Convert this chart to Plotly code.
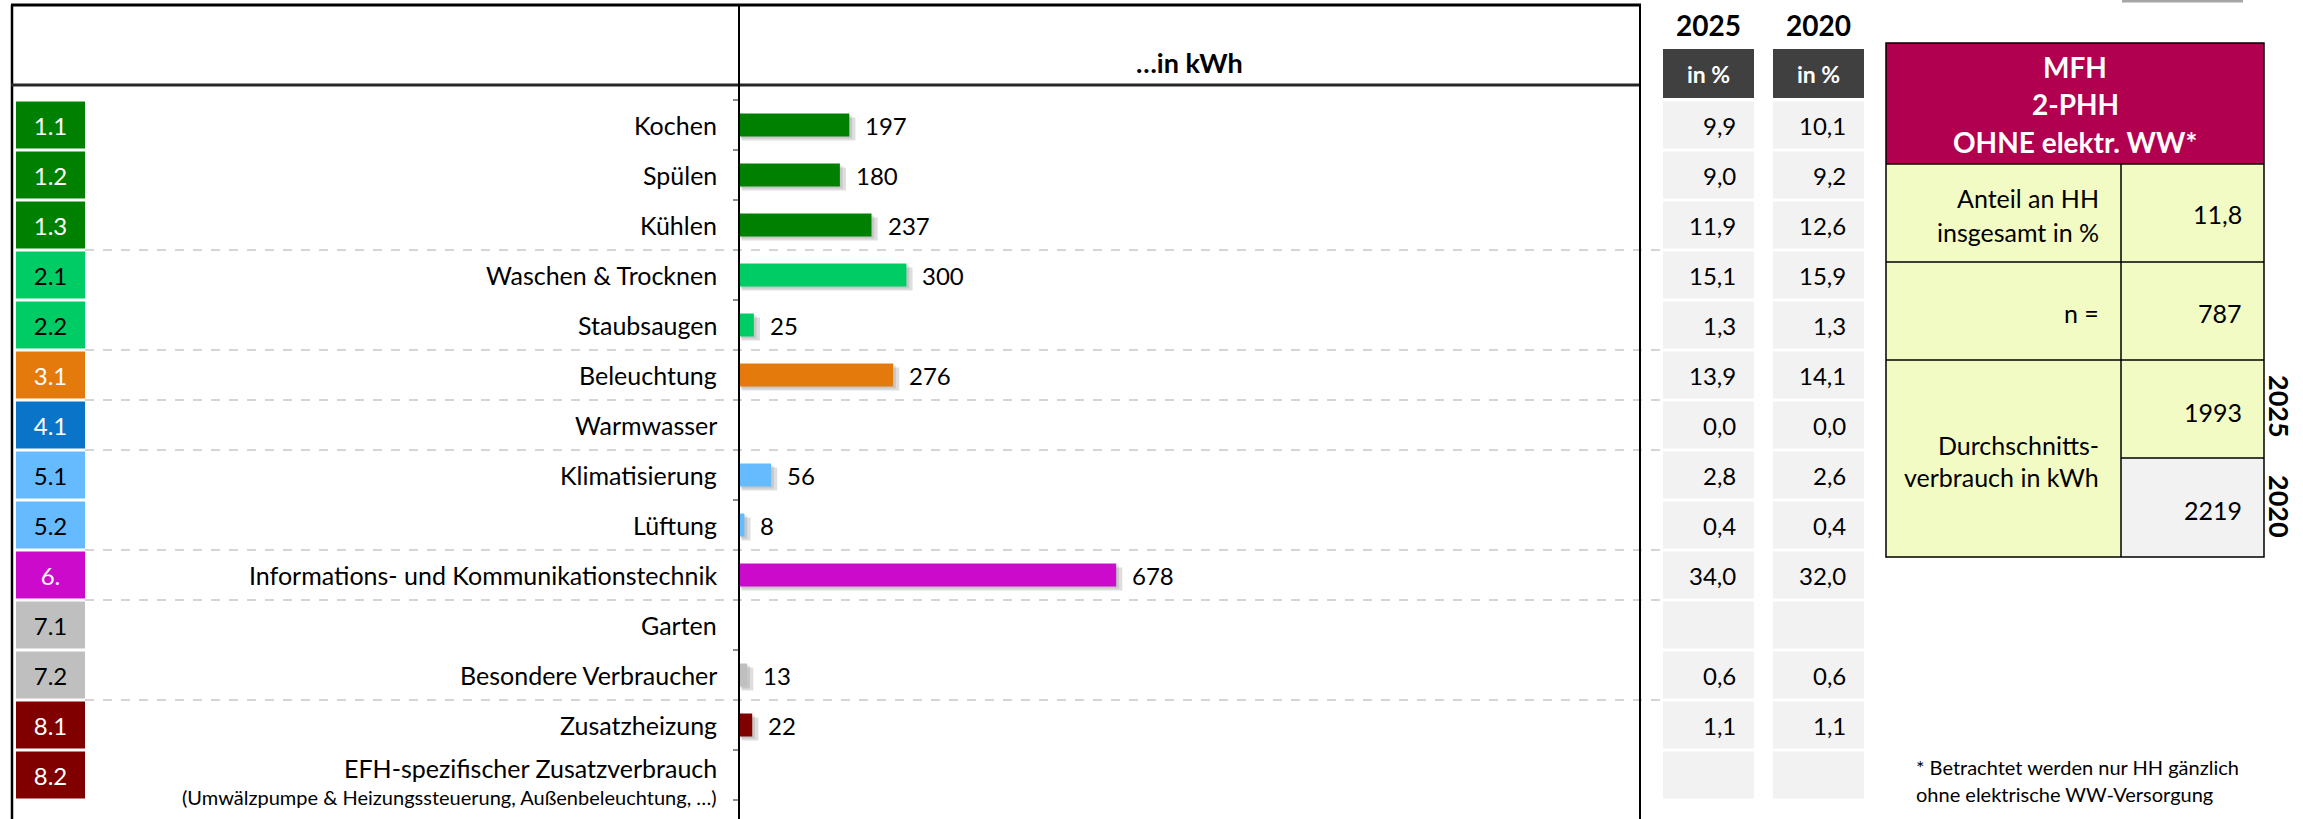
import plotly.graph_objects as go

W, H = 2303, 819

# ---------------- data ----------------
codes = ["1.1", "1.2", "1.3", "2.1", "2.2", "3.1", "4.1", "5.1", "5.2", "6.", "7.1", "7.2", "8.1", "8.2"]
labels = ["Kochen", "Spülen", "Kühlen", "Waschen & Trocknen", "Staubsaugen", "Beleuchtung",
          "Warmwasser", "Klimatisierung", "Lüftung", "Informations- und Kommunikationstechnik",
          "Garten", "Besondere Verbraucher", "Zusatzheizung", "EFH-spezifischer Zusatzverbrauch"]
sublabels = [""] * 13 + ["(Umwälzpumpe & Heizungssteuerung, Außenbeleuchtung, …)"]
kwh = [197, 180, 237, 300, 25, 276, 0, 56, 8, 678, None, 13, 22, None]
pct_2025 = [9.9, 9.0, 11.9, 15.1, 1.3, 13.9, 0.0, 2.8, 0.4, 34.0, None, 0.6, 1.1, None]
pct_2020 = [10.1, 9.2, 12.6, 15.9, 1.3, 14.1, 0.0, 2.6, 0.4, 32.0, None, 0.6, 1.1, None]
years = ["2025", "2020"]
col_header = "in %"
axis_title = "…in kWh"

group_colors = {"1": "#008000", "2": "#00CC66", "3": "#E57A0C", "4": "#0A74C8",
                "5": "#66BBFF", "6": "#CC0ACC", "7": "#BFBFBF", "8": "#800000"}
group_textcolors = {"1": "white", "2": "black", "3": "white", "4": "white",
                    "5": "black", "6": "white", "7": "black", "8": "white"}

box_title = ["MFH", "2-PHH", "OHNE elektr. WW*"]
anteil_label = ["Anteil an HH", "insgesamt in %"]
anteil_value = 11.8
n_label = "n ="
n_value = 787
avg_label = ["Durchschnitts-", "verbrauch in kWh"]
avg_2025 = 1993
avg_2020 = 2219
footnote = ["* Betrachtet werden nur HH gänzlich", "ohne elektrische WW-Versorgung"]

# ---------------- helpers ----------------
def px(x):
    return x / W

def py(y):
    return 1 - y / H

def de(v):
    return f"{v:.1f}".replace(".", ",")

rows = list(range(len(codes)))
colors = [group_colors[c[0]] for c in codes]
tcolors = [group_textcolors[c[0]] for c in codes]

FONT = "Lato"

fig = go.Figure()

# code boxes
fig.add_trace(go.Bar(y=rows, x=[1] * len(rows), base=0, orientation="h", xaxis="x2", yaxis="y",
                     width=0.94, marker=dict(color=colors, line=dict(width=0)),
                     text=codes, textposition="inside", insidetextanchor="middle",
                     textfont=dict(family=FONT, size=24, color=tcolors),
                     hoverinfo="skip"))

# bar shadows
fig.add_trace(go.Bar(y=rows, x=[(v + 8) if v else None for v in kwh], base=[3] * len(rows),
                     orientation="h", xaxis="x", yaxis="y", width=0.46, offset=-0.15,
                     marker=dict(color="rgba(0,0,0,0.13)", line=dict(width=0)),
                     hoverinfo="skip"))
fig.add_trace(go.Bar(y=rows, x=[(v + 4) if v else None for v in kwh], base=[1] * len(rows),
                     orientation="h", xaxis="x", yaxis="y", width=0.46, offset=-0.19,
                     marker=dict(color="rgba(0,0,0,0.10)", line=dict(width=0)),
                     hoverinfo="skip"))
# main bars
fig.add_trace(go.Bar(y=rows, x=kwh, base=0, orientation="h", xaxis="x", yaxis="y", width=0.46,
                     marker=dict(color=colors, line=dict(width=0)),
                     hovertemplate="%{x} kWh<extra></extra>"))

# table cells
for xa, vals in (("x3", pct_2025), ("x4", pct_2020)):
    fig.add_trace(go.Bar(y=rows, x=[1] * len(rows), base=0, orientation="h", xaxis=xa, yaxis="y",
                         width=0.94, marker=dict(color="#F2F2F2", line=dict(width=0)),
                         hoverinfo="skip"))
    fig.add_trace(go.Bar(y=[-1.03], x=[1], base=0, orientation="h", xaxis=xa, yaxis="y",
                         width=0.98, marker=dict(color="#404040", line=dict(width=0)),
                         text=[f"<b>{col_header}</b>"], textposition="inside", insidetextanchor="middle",
                         textfont=dict(family=FONT, size=23, color="white"),
                         hoverinfo="skip"))

annotations = []

def ann(**kw):
    kw.setdefault("showarrow", False)
    kw.setdefault("xanchor", "center")
    kw.setdefault("yanchor", "middle")
    annotations.append(kw)

# value labels
for i, v in enumerate(kwh):
    if v:
        ann(x=v, y=i, xref="x", yref="y", text=str(v), xanchor="left", xshift=14,
            font=dict(family=FONT, size=24, color="black"))
# category labels
for i, (lab, sub) in enumerate(zip(labels, sublabels)):
    if sub:
        ann(x=px(719), y=i, xref="paper", yref="y", text=lab, xanchor="right", yshift=7,
            font=dict(family=FONT, size=25, color="black"))
        ann(x=px(719), y=i, xref="paper", yref="y", text=sub, xanchor="right", yshift=-22,
            font=dict(family=FONT, size=20, color="black"))
    else:
        ann(x=px(719), y=i, xref="paper", yref="y", text=lab, xanchor="right",
            font=dict(family=FONT, size=25, color="black"))
# percentage values
for xa, vals in (("x3", pct_2025), ("x4", pct_2020)):
    for i, v in enumerate(vals):
        if v is not None:
            ann(x=1, y=i, xref=xa, yref="y", text=de(v), xanchor="right", xshift=-16,
                font=dict(family=FONT, size=24, color="black"))
# header texts
ann(x=px((739 + 1640) / 2), y=py(63), xref="paper", yref="paper", text=f"<b>{axis_title}</b>",
    font=dict(family=FONT, size=27, color="black"))
for yr, cx in zip(years, (1708, 1818)):
    ann(x=px(cx), y=py(25), xref="paper", yref="paper", text=f"<b>{yr}</b>",
        font=dict(family=FONT, size=28, color="black"))

# info box texts
for k, line_txt in enumerate(box_title):
    ann(x=px(2075), y=py(67 + 37.5 * k), xref="paper", yref="paper", text=f"<b>{line_txt}</b>",
        font=dict(family=FONT, size=28, color="white"))
for k, line_txt in enumerate(anteil_label):
    ann(x=px(2101), y=py(198 + 34 * k), xref="paper", yref="paper", text=line_txt, xanchor="right",
        font=dict(family=FONT, size=25, color="black"))
ann(x=px(2244), y=py(214), xref="paper", yref="paper", text=de(anteil_value), xanchor="right",
    font=dict(family=FONT, size=25, color="black"))
ann(x=px(2101), y=py(313), xref="paper", yref="paper", text=n_label, xanchor="right",
    font=dict(family=FONT, size=25, color="black"))
ann(x=px(2244), y=py(313), xref="paper", yref="paper", text=str(n_value), xanchor="right",
    font=dict(family=FONT, size=25, color="black"))
for k, line_txt in enumerate(avg_label):
    ann(x=px(2101), y=py(445 + 32 * k), xref="paper", yref="paper", text=line_txt, xanchor="right",
        font=dict(family=FONT, size=25, color="black"))
ann(x=px(2244), y=py(412), xref="paper", yref="paper", text=str(avg_2025), xanchor="right",
    font=dict(family=FONT, size=25, color="black"))
ann(x=px(2244), y=py(510), xref="paper", yref="paper", text=str(avg_2020), xanchor="right",
    font=dict(family=FONT, size=25, color="black"))
for yr, cy in zip(years, (406, 506)):
    ann(x=px(2280), y=py(cy), xref="paper", yref="paper", text=f"<b>{yr}</b>", textangle=90,
        font=dict(family=FONT, size=27, color="black"))
for k, line_txt in enumerate(footnote):
    ann(x=px(1914), y=py(767 + 27 * k), xref="paper", yref="paper", text=line_txt, xanchor="left",
        font=dict(family=FONT, size=20, color="black"))

# ---------------- shapes ----------------
shapes = []

def line(x0, y0, x1, y1, color="black", width=2, dash=None, y_is_data=False):
    ln = dict(color=color, width=width)
    if dash:
        ln["dash"] = dash
    shapes.append(dict(type="line", xref="paper", yref="y" if y_is_data else "paper",
                       x0=px(x0), x1=px(x1),
                       y0=y0 if y_is_data else py(y0), y1=y1 if y_is_data else py(y1),
                       line=ln, layer="above"))

def rect(x0, y0, x1, y1, fill, lw=0, lc="black"):
    shapes.append(dict(type="rect", xref="paper", yref="paper", x0=px(x0), x1=px(x1), y0=py(y0), y1=py(y1),
                       fillcolor=fill, line=dict(width=lw, color=lc), layer="below"))

# dashed group separators (where the group number changes)
for i in range(1, len(codes)):
    if codes[i][0] != codes[i - 1][0]:
        line(85, i - 0.5, 1662, i - 0.5, color="#C8C8C8", width=1.3, dash="dash", y_is_data=True)

# frame of the left table
line(12, 5, 12, H, width=2.5)
line(11, 5, 1641, 5, width=3)
line(11, 85, 1641, 85, color="#262626", width=3)
line(739, 5, 739, H, width=2)
line(1640, 5, 1640, H, width=2)

# info box
rect(1886, 43, 2264, 164, "#B20050")
rect(1886, 164, 2121, 557, "#F1FBC3")
rect(2121, 164, 2264, 458, "#F1FBC3")
rect(2121, 458, 2264, 557, "#F2F2F2")
for yy in (164, 262, 360):
    line(1886, yy, 2264, yy, width=1.5)
line(2121, 458, 2264, 458, width=1.5)
line(2121, 164, 2121, 557, width=1.5)
shapes.append(dict(type="rect", xref="paper", yref="paper", x0=px(1886), x1=px(2264), y0=py(43), y1=py(557),
                   line=dict(color="black", width=1.5), layer="above"))
line(2122, 1, 2243, 1, color="#A6A6A6", width=3)

fig.update_layout(
    width=W, height=H, margin=dict(l=0, r=0, t=0, b=0),
    paper_bgcolor="white", plot_bgcolor="rgba(0,0,0,0)",
    showlegend=False, barmode="overlay",
    xaxis=dict(domain=[px(740), px(1640)], range=[0, 1622], visible=False, anchor="y"),
    xaxis2=dict(domain=[px(16), px(85)], range=[0, 1], visible=False, anchor="y"),
    xaxis3=dict(domain=[px(1663), px(1754)], range=[0, 1], visible=False, anchor="y"),
    xaxis4=dict(domain=[px(1773), px(1864)], range=[0, 1], visible=False, anchor="y"),
    yaxis=dict(domain=[0, 1], range=[(H - 125) / 50, -125 / 50], anchor="x",
               tickvals=[i - 0.5 for i in range(len(codes) + 1)], ticks="outside", ticklen=6,
               tickwidth=1.5, tickcolor="#8C8C8C", showticklabels=False, showgrid=False,
               zeroline=False, showline=False),
    annotations=annotations, shapes=shapes,
    font=dict(family=FONT),
)

fig.write_html("out.html", config={"displayModeBar": False},
               post_script="document.body.style.margin='0';document.body.style.overflow='hidden';")
